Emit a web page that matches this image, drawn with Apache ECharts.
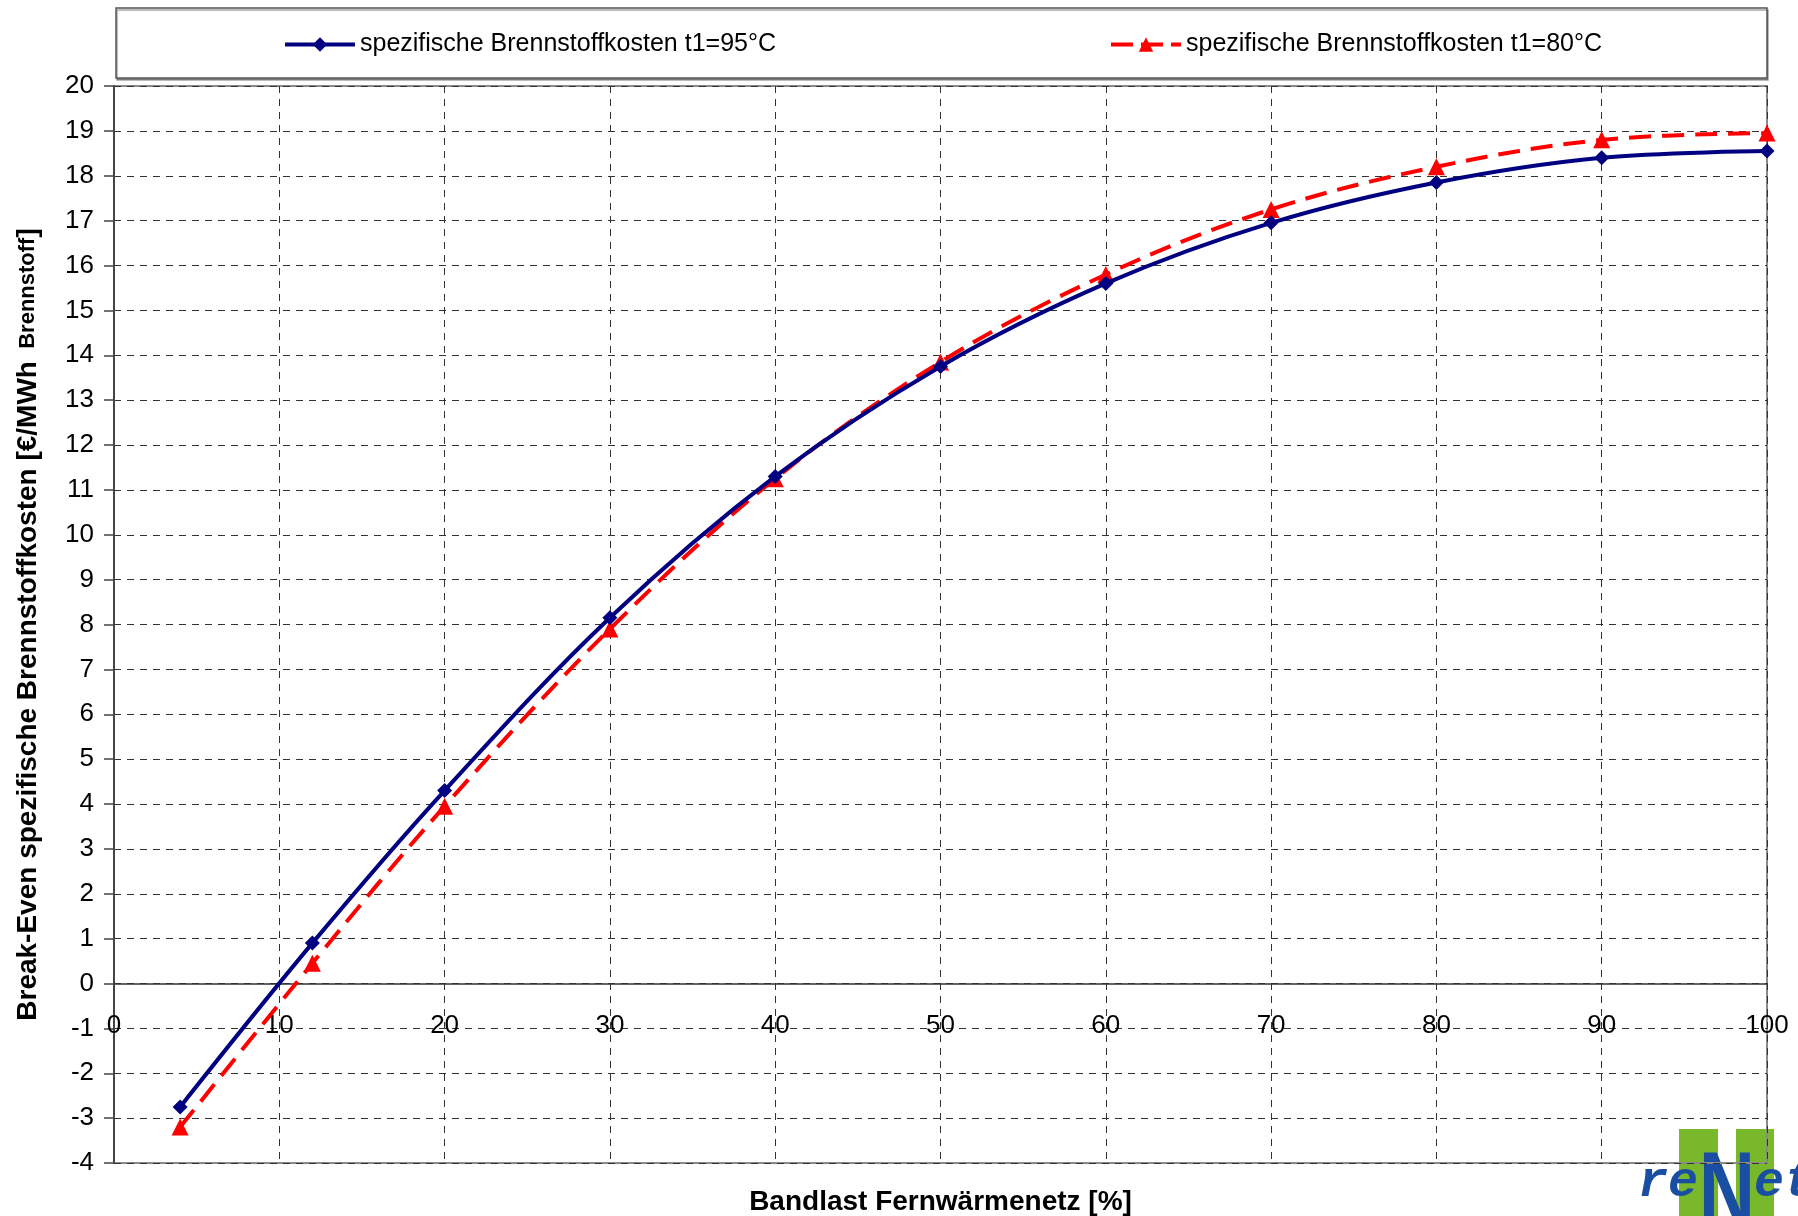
<!DOCTYPE html>
<html>
<head>
<meta charset="utf-8">
<script src="https://cdn.jsdelivr.net/npm/echarts@6/dist/echarts.min.js"></script>
<style>
html,body{margin:0;padding:0;background:#fff;}
#chart{width:1798px;height:1216px;}
</style>
</head>
<body>
<div id="chart"></div>
<script>
// Data
const xValues = [4, 12, 20, 30, 40, 50, 60, 70, 80, 90, 100];
const cost95 = [-2.75, 0.9, 4.3, 8.15, 11.3, 13.75, 15.6, 16.95, 17.85, 18.4, 18.55];
const cost80 = [-3.2, 0.45, 3.95, 7.9, 11.25, 13.85, 15.8, 17.25, 18.2, 18.8, 18.95];
const seriesNames = ['spezifische Brennstoffkosten t1=95°C', 'spezifische Brennstoffkosten t1=80°C'];
const xTitle = 'Bandlast Fernwärmenetz [%]';
const yTitleMain = 'Break-Even spezifische Brennstoffkosten [€/MWh';
const yTitleSub = 'Brennstoff';
const yMin = -4, yMax = 20;

const FONT = '"Liberation Sans", Arial, sans-serif';
const zip = (xs, ys) => xs.map((x, i) => [x, ys[i]]);

const GRID_TOP = 86, GRID_BOTTOM = 53, H = 1216;
const plotH = H - GRID_TOP - GRID_BOTTOM;
// place x axis (line + labels + name) at y = 0
const xAxisOffset = -((0 - yMin) / (yMax - yMin)) * plotH;

const chart = echarts.init(document.getElementById('chart'), null, {renderer: 'canvas'});
chart.setOption({
  backgroundColor: '#fff',
  animation: false,
  textStyle: {fontFamily: FONT},
  grid: {left: 114, right: 31, top: GRID_TOP, bottom: GRID_BOTTOM, show: true, borderColor: '#8a8a8a', borderWidth: 2,
         containLabel: false, outerBoundsMode: 'none'},
  legend: [
    {data: [seriesNames[0]], left: 278, top: 27, itemWidth: 70, itemHeight: 18,
     lineStyle: {width: 4},
     textStyle: {fontSize: 25, color: '#000', fontFamily: FONT}},
    {data: [seriesNames[1]], left: 1104, top: 27, itemWidth: 70, itemHeight: 18,
     lineStyle: {width: 4, type: [22, 8]},
     textStyle: {fontSize: 25, color: '#000', fontFamily: FONT}}
  ],
  xAxis: {
    type: 'value', min: 0, max: 100, interval: 10, position: 'bottom', offset: xAxisOffset,
    axisLine: {onZero: false, lineStyle: {color: '#333', width: 1.5}},
    axisTick: {show: false},
    axisLabel: {fontSize: 26, color: '#000', margin: 29, fontFamily: FONT},
    splitLine: {show: true, lineStyle: {color: '#333', width: 1, type: [7, 6]}},
    name: xTitle, nameLocation: 'middle', nameGap: 205,
    nameTextStyle: {fontSize: 28, fontWeight: 'bold', color: '#000', fontFamily: FONT}
  },
  yAxis: {
    type: 'value', min: yMin, max: yMax, interval: 1,
    axisLine: {show: true, onZero: false, lineStyle: {color: '#444', width: 2}},
    axisTick: {show: true, length: 10, lineStyle: {color: '#444', width: 1.5}},
    axisLabel: {fontSize: 26, color: '#000', margin: 20, fontFamily: FONT},
    splitLine: {show: true, lineStyle: {color: '#333', width: 1, type: [7, 6]}},
    name: '{a|' + yTitleMain + '}{b|  ' + yTitleSub + '}{a|]}',
    nameLocation: 'middle', nameGap: 72, nameRotate: 90,
    nameTextStyle: {
      rich: {
        a: {fontSize: 28, fontWeight: 'bold', color: '#000', fontFamily: FONT},
        b: {fontSize: 22, fontWeight: 'bold', color: '#000', fontFamily: FONT}
      }
    }
  },
  series: [
    {
      name: seriesNames[0], type: 'line', data: zip(xValues, cost95), smooth: 0.35,
      symbol: 'diamond', symbolSize: 15,
      lineStyle: {color: '#000080', width: 4},
      itemStyle: {color: '#000080'}, z: 3
    },
    {
      name: seriesNames[1], type: 'line', data: zip(xValues, cost80), smooth: 0.35,
      symbol: 'triangle', symbolSize: 17,
      lineStyle: {color: '#ff0000', width: 4, type: [22, 11]},
      itemStyle: {color: '#ff0000'}, z: 2
    }
  ],
  graphic: [
    {type: 'rect', z: -1, shape: {x: 116, y: 8, width: 1651, height: 70},
     style: {fill: '#fff', stroke: '#555', lineWidth: 1.5, shadowColor: 'rgba(0,0,0,0.35)', shadowOffsetX: 1, shadowOffsetY: 2, shadowBlur: 0}, silent: true},
    {type: 'rect', z: -2, shape: {x: 1679, y: 1129, width: 39, height: 90}, style: {fill: '#78b82a'}, silent: true},
    {type: 'rect', z: -2, shape: {x: 1736, y: 1129, width: 38, height: 90}, style: {fill: '#78b82a'}, silent: true},
    {type: 'text', z: -1, x: 1727, y: 1252, scaleY: 1.4,
     style: {x: 0, y: 0, text: 'N', font: 'bold 78px "Liberation Sans", Arial, sans-serif', fill: '#1a4ea3', textAlign: 'center', textVerticalAlign: 'bottom'}, silent: true},
    {type: 'text', z: -1, style: {x: 1698, y: 1183, text: 're', font: 'italic bold 50px "Liberation Mono", monospace', fill: '#1a4ea3', textAlign: 'right', textVerticalAlign: 'middle'}, silent: true},
    {type: 'text', z: -1, style: {x: 1754, y: 1183, text: 'et', font: 'italic bold 50px "Liberation Mono", monospace', fill: '#1a4ea3', textAlign: 'left', textVerticalAlign: 'middle'}, silent: true}
  ]
});
</script>
</body>
</html>
